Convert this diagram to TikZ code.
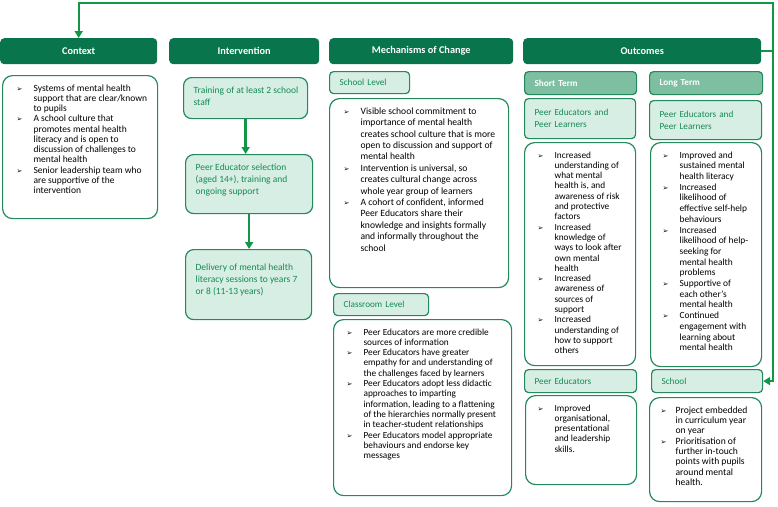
\documentclass[tikz,border=0pt]{standalone}
\usepackage{fontspec}
\setmainfont{Carlito}
\newfontfamily\symf{DejaVu Sans}
\usepackage{xcolor}
\usetikzlibrary{positioning,arrows.meta,calc}

\definecolor{hdrgreen}{RGB}{8,117,77}
\definecolor{linegreen}{RGB}{36,137,92}
\definecolor{palegreen}{RGB}{214,238,227}
\definecolor{midgreen}{RGB}{125,191,160}
\definecolor{textgreen}{RGB}{22,138,84}
\definecolor{flowgreen}{RGB}{18,150,72}

\newcommand{\arr}{{\symf\fontsize{7}{7}\selectfont ➢}}
\newcommand{\bul}{\par\hangindent=17pt\hangafter=1\noindent\makebox[17pt][l]{\arr}}
\newcommand{\boxtext}[4][13pt]{\parbox[c][#3][t]{#2}{\leftskip=#1\rightskip=0pt plus 1fil\vspace*{9pt}#4}}

\begin{document}
\begin{tikzpicture}[x=1pt,y=-1pt,>={Triangle[length=7pt,width=8pt]},
    head/.style={rectangle, rounded corners=4pt, fill=hdrgreen, text=white, anchor=north west,
      inner sep=0pt, minimum height=26pt, font=\fontsize{10.3}{12}\selectfont\bfseries},
    box/.style={rectangle, rounded corners=10pt, draw=linegreen, line width=1.2pt, fill=white,
      anchor=north west, inner sep=0pt, font=\fontsize{9.3}{10.3}\selectfont},
    stage/.style={box, rounded corners=8pt, fill=palegreen, text=textgreen, font=\fontsize{9.5}{12.3}\selectfont},
    tag/.style={rectangle, rounded corners=4pt, draw=linegreen, line width=1.2pt, fill=palegreen,
      text=textgreen, anchor=north west, inner xsep=10pt, inner ysep=0pt, align=left,
      font=\fontsize{9.2}{12}\selectfont},
    term/.style={tag, fill=midgreen, text=white, font=\fontsize{9.2}{12}\selectfont\bfseries},
    flow/.style={draw=flowgreen, line width=2.4pt}]

    \useasboundingbox (0,0) rectangle (778,506);

    % column headers
    \node[head, minimum width=157pt] (1) at (0,38) {Context};
    \node[head, minimum width=150pt] (2) at (169,38) {Intervention};
    \node[head, minimum width=184pt] (3) at (329,38) {Mechanisms of Change};
    \node[head, minimum width=238pt] (4) at (523,38) {Outcomes};

    % context
    \node[box] (5) at (2,75) {\boxtext[14pt]{155pt}{143pt}{\fontsize{9.5}{10.25}\selectfont
      \bul Systems of mental health\\ support that are clear/known\\ to pupils
      \bul A school culture that\\ promotes mental health\\ literacy and is open to\\ discussion of challenges to\\ mental health
      \bul Senior leadership team who\\ are supportive of the\\ intervention}};

    % intervention
    \node[stage] (6) at (183,77) {\boxtext[10pt]{124pt}{41pt}{Training of at least 2 school\\ staff}};
    \node[stage] (7) at (185,154) {\boxtext[10pt]{127pt}{59pt}{Peer Educator selection\\ (aged 14+), training and\\ ongoing support}};
    \node[stage] (8) at (185,249) {\boxtext[10pt]{126pt}{70pt}{\vspace*{5pt}Delivery of mental health\\ literacy sessions to years 7\\ or 8 (11-13 years)}};

    % mechanisms of change
    \node[tag, text width=60pt, minimum height=22pt] (9) at (329,71) {School Level};
    \node[box] (10) at (329,98) {\boxtext[14pt]{179pt}{189pt}{\fontsize{9.6}{11.4}\selectfont
      \bul Visible school commitment to\\ importance of mental health\\ creates school culture that is more\\ open to discussion and support of\\ mental health
      \bul Intervention is universal, so\\ creates cultural change across\\ whole year group of learners
      \bul A cohort of confident, informed\\ Peer Educators share their\\ knowledge and insights formally\\ and informally throughout the\\ school}};
    \node[tag, text width=75pt, minimum height=22pt] (11) at (333,293) {Classroom Level};
    \node[box] (12) at (333,319) {\boxtext{178pt}{176pt}{%
      \bul Peer Educators are more credible\\ sources of information
      \bul Peer Educators have greater\\ empathy for and understanding of\\ the challenges faced by learners
      \bul Peer Educators adopt less didactic\\ approaches to imparting\\ information, leading to a flattening\\ of the hierarchies normally present\\ in teacher-student relationships
      \bul Peer Educators model appropriate\\ behaviours and endorse key\\ messages}};

    % outcomes
    \node[term, text width=92pt, minimum height=23pt] (13) at (524,71) {Short Term};
    \node[term, text width=93pt, minimum height=23pt] (14) at (649,71) {Long Term};
    \node[tag, text width=91pt, minimum height=40pt] (15) at (524,98) {Peer Educators and\\ Peer Learners};
    \node[tag, text width=92pt, minimum height=39pt] (16) at (649,100) {Peer Educators and\\ Peer Learners};
    \node[box] (17) at (524,142) {\boxtext{111pt}{223pt}{%
      \bul Increased\\ understanding of\\ what mental\\ health is, and\\ awareness of risk\\ and protective\\ factors
      \bul Increased\\ knowledge of\\ ways to look after\\ own mental\\ health
      \bul Increased\\ awareness of\\ sources of\\ support
      \bul Increased\\ understanding of\\ how to support\\ others}};
    \node[box] (18) at (650,142) {\boxtext[12pt]{111pt}{224pt}{\fontsize{9.4}{10.7}\selectfont
      \bul Improved and\\ sustained mental\\ health literacy
      \bul Increased\\ likelihood of\\ effective self-help\\ behaviours
      \bul Increased\\ likelihood of help-\\ seeking for\\ mental health\\ problems
      \bul Supportive of\\ each other’s\\ mental health
      \bul Continued\\ engagement with\\ learning about\\ mental health}};
    \node[tag, text width=92pt, minimum height=23pt] (19) at (524,369) {Peer Educators};
    \node[tag, text width=91pt, minimum height=23pt] (20) at (651,369) {School};
    \node[box] (21) at (525,395) {\boxtext[12pt]{111pt}{89pt}{%
      \bul Improved\\ organisational,\\ presentational\\ and leadership\\ skills.}};
    \node[box] (22) at (649,397) {\boxtext[11pt]{112pt}{104pt}{\fontsize{9.6}{10.3}\selectfont\def\bul{\par\hangindent=15pt\hangafter=1\noindent\makebox[15pt][l]{\arr}}%
      \bul Project embedded\\ in curriculum year\\ on year
      \bul Prioritisation of\\ further in-touch\\ points with pupils\\ around mental\\ health.}};

    % connectors
    \coordinate (23) at (773,3);
    \draw[flow,->] (6.south) -- (6.south |- 7.north);
    \draw[flow,->] (7.south) -- (7.south |- 8.north);
    \draw[flow] (4.east) -- (4.east -| 23);
    \draw[flow,<->] (1.north) |- (23) |- (20.east);
\end{tikzpicture}
\end{document}
